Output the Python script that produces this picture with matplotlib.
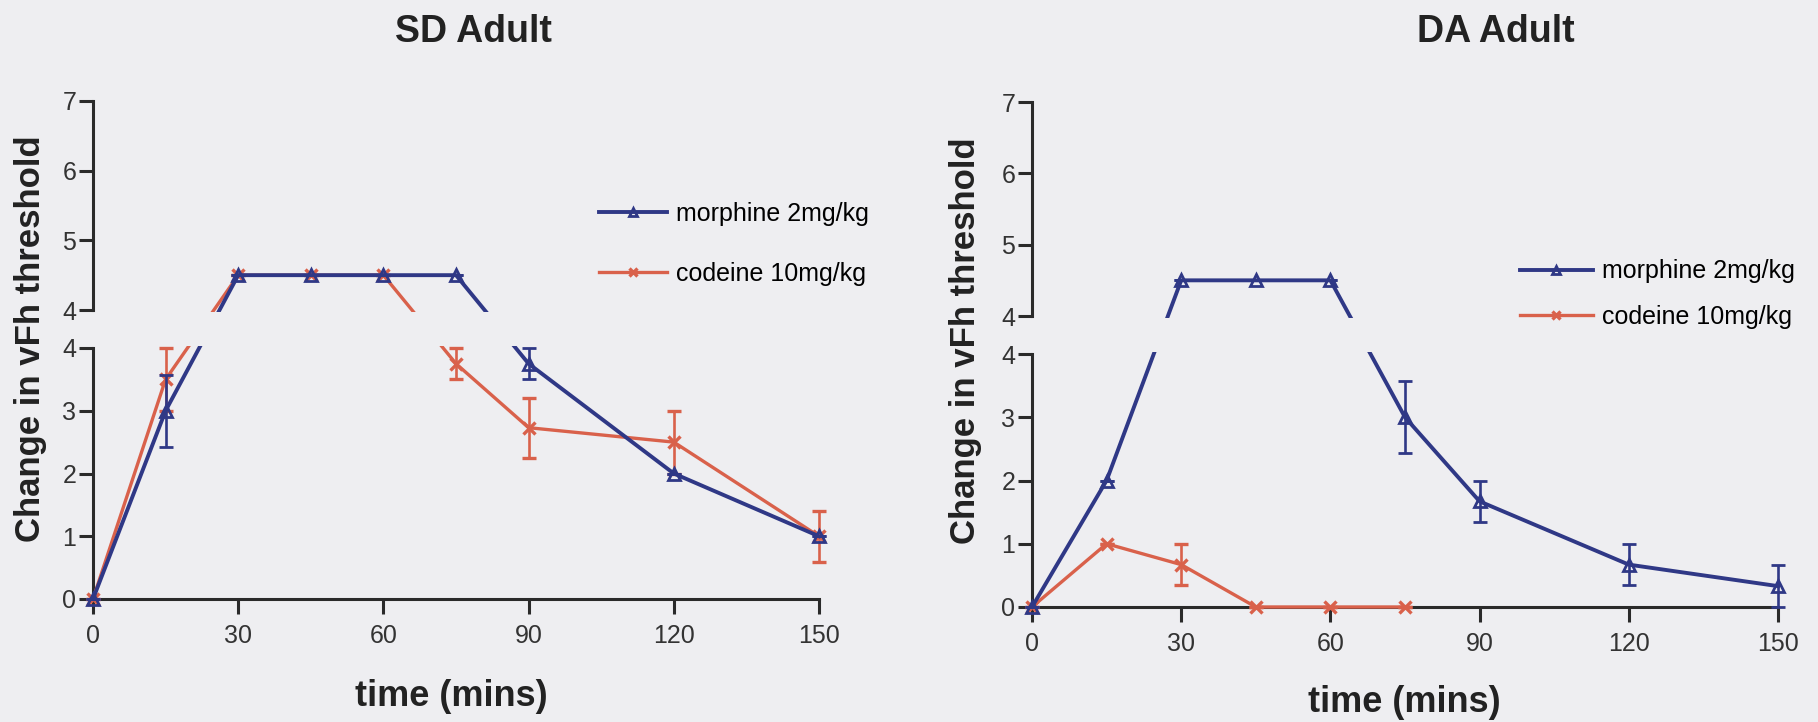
import numpy as np
import matplotlib
matplotlib.use("Agg")
import matplotlib.pyplot as plt
from matplotlib.patches import Rectangle


# --------------------------
# Data
# --------------------------
TIME = [0, 15, 30, 45, 60, 75, 90, 120, 150]

SD_MORPHINE = [0, 3.0, 4.5, 4.5, 4.5, 4.5, 3.75, 2.0, 1.0]
SD_MORPHINE_ERR = [0, 0.57, 0, 0, 0, 0, 0.25, 0, 0]
SD_CODEINE = [0, 3.5, 4.5, 4.5, 4.5, 3.75, 2.73, 2.5, 1.0]
SD_CODEINE_ERR = [0, 0.5, 0, 0, 0, 0.25, 0.48, 0.5, 0.41]

DA_MORPHINE = [0, 2.0, 4.5, 4.5, 4.5, 3.0, 1.67, 0.67, 0.33]
DA_MORPHINE_ERR = [0, 0, 0, 0, 0, 0.57, 0.33, 0.33, 0.33]
DA_TIME_CODEINE = [0, 15, 30, 45, 60, 75]
DA_CODEINE = [0, 1.0, 0.67, 0, 0, 0]
DA_CODEINE_ERR = [0, 0, 0.33, 0, 0, 0]

LABELS = ["morphine 2mg/kg", "codeine 10mg/kg"]
X_TICKS = [0, 30, 60, 90, 120, 150]
LOW_TICKS = [0, 1, 2, 3, 4]
HIGH_TICKS = [4, 5, 6, 7]

# --------------------------
# Style
# --------------------------
W, H = 1818, 722
BG = "#eeeef1"
C_MORPH = "#2f3886"
C_COD = "#d9614b"
C_AX = "#2a2a2a"
BREAK = 4.0

plt.rcParams["font.family"] = ["Liberation Sans", "DejaVu Sans"]


def fx(px):
    return px / W


def fy(py):
    return 1 - py / H


def break_scale(gap, ratio):
    """Piecewise y scale: 0..4 as is, a jump for the gap, then 4..7 stretched."""
    def fwd(y):
        y = np.asarray(y, dtype=float)
        return np.where(y <= BREAK, y, BREAK + gap + (y - BREAK) * ratio)

    def inv(s):
        s = np.asarray(s, dtype=float)
        return np.where(s <= BREAK, s,
                        np.where(s < BREAK + gap, BREAK, BREAK + (s - BREAK - gap) / ratio))
    return fwd, inv


def style_frame(ax, ticks, lo, hi, show_x):
    ax.set_facecolor("none")
    ax.set_xlim(0, 150)
    ax.set_ylim(lo, hi)
    for s in ["top", "right"]:
        ax.spines[s].set_visible(False)
    for s in ["left", "bottom"]:
        ax.spines[s].set_color(C_AX)
        ax.spines[s].set_linewidth(2.2)
    ax.set_yticks(ticks)
    ax.set_yticks([BREAK], minor=True)
    ax.tick_params(axis="y", which="major", direction="out", length=10, width=2.2,
                   color=C_AX, labelsize=18, labelcolor="#333333", pad=2)
    ax.tick_params(axis="y", which="minor", direction="in", length=9, width=2.2, color=C_AX)
    if show_x:
        ax.set_xticks(X_TICKS)
        ax.tick_params(axis="x", direction="out", length=11, width=2.2, color=C_AX,
                       labelsize=18, labelcolor="#333333", pad=7)
    else:
        ax.spines["bottom"].set_visible(False)
        ax.set_xticks([])


def panel(fig, box, morph, morph_err, cod_t, cod, cod_err, legend_pos, leg_spacing, leg_hl):
    x0, x1, up_top, up_bot, lo_top, lo_bot = box
    a = (lo_bot - lo_top) / 4.0
    gap = (lo_top - up_bot) / a
    ratio = ((up_bot - up_top) / 3.0) / a

    ax_up = fig.add_axes([fx(x0), fy(up_bot), fx(x1 - x0), (up_bot - up_top) / H])
    ax_lo = fig.add_axes([fx(x0), fy(lo_bot), fx(x1 - x0), (lo_bot - lo_top) / H])
    style_frame(ax_up, HIGH_TICKS, 4, 7, False)
    style_frame(ax_lo, LOW_TICKS, 0, 4, True)

    ax = fig.add_axes([fx(x0), fy(lo_bot), fx(x1 - x0), (lo_bot - up_top) / H])
    ax.set_facecolor("none")
    ax.set_yscale("function", functions=break_scale(gap, ratio))
    ax.set_xlim(0, 150)
    ax.set_ylim(0, 7)
    ax.axis("off")

    cod_c = ax.errorbar(cod_t, cod, yerr=cod_err, color=C_COD, lw=2.4, marker="x", ms=8,
                        mew=2.4, elinewidth=1.9, capsize=5, capthick=1.9, clip_on=False,
                        zorder=3)
    morph_c = ax.errorbar(TIME, morph, yerr=morph_err, color=C_MORPH, lw=2.8, marker="^",
                          ms=8, mfc="none", mew=2.0, elinewidth=1.9, capsize=5, capthick=1.9,
                          clip_on=False, zorder=4)

    # hide the lines where the axis is broken
    ax.add_patch(Rectangle((fx(x0 + 3), fy(lo_top - 2)), fx(x1 - x0 + 20), (lo_top - up_bot - 4) / H,
                           transform=fig.transFigure, facecolor=BG, edgecolor="none",
                           zorder=10, clip_on=False))

    leg = ax.legend([morph_c.lines[0], cod_c.lines[0]], LABELS, loc="center left",
                    bbox_to_anchor=legend_pos, bbox_transform=fig.transFigure,
                    frameon=False, fontsize=18, handlelength=leg_hl, handletextpad=0.4,
                    labelspacing=leg_spacing, borderpad=0, borderaxespad=0, numpoints=1,
                    markerscale=0.8)
    leg.set_zorder(20)
    return ax


def main():
    fig = plt.figure(figsize=(W / 100, H / 100), dpi=100, facecolor=BG)

    panel(fig, (93, 819, 101, 310, 348, 599),
          SD_MORPHINE, SD_MORPHINE_ERR, TIME, SD_CODEINE, SD_CODEINE_ERR,
          (fx(599), fy(244)), 1.45, 2.7)
    panel(fig, (1032, 1778, 102, 316, 354, 607),
          DA_MORPHINE, DA_MORPHINE_ERR, DA_TIME_CODEINE, DA_CODEINE, DA_CODEINE_ERR,
          (fx(1520), fy(294)), 0.85, 2.9)

    bold = dict(fontweight="bold", color="#222222", ha="center", va="center")
    fig.text(fx(473), fy(32), "SD Adult", fontsize=27, **bold)
    fig.text(fx(1496), fy(32), "DA Adult", fontsize=27, **bold)
    fig.text(fx(451), fy(696), "time (mins)", fontsize=26, **bold)
    fig.text(fx(1404), fy(703), "time (mins)", fontsize=26, **bold)
    fig.text(fx(31), fy(339), "Change in vFh threshold", fontsize=25, rotation=90, **bold)
    fig.text(fx(966), fy(341), "Change in vFh threshold", fontsize=25, rotation=90, **bold)

    fig.savefig("out.png", dpi=100, facecolor=BG)


if __name__ == "__main__":
    main()
